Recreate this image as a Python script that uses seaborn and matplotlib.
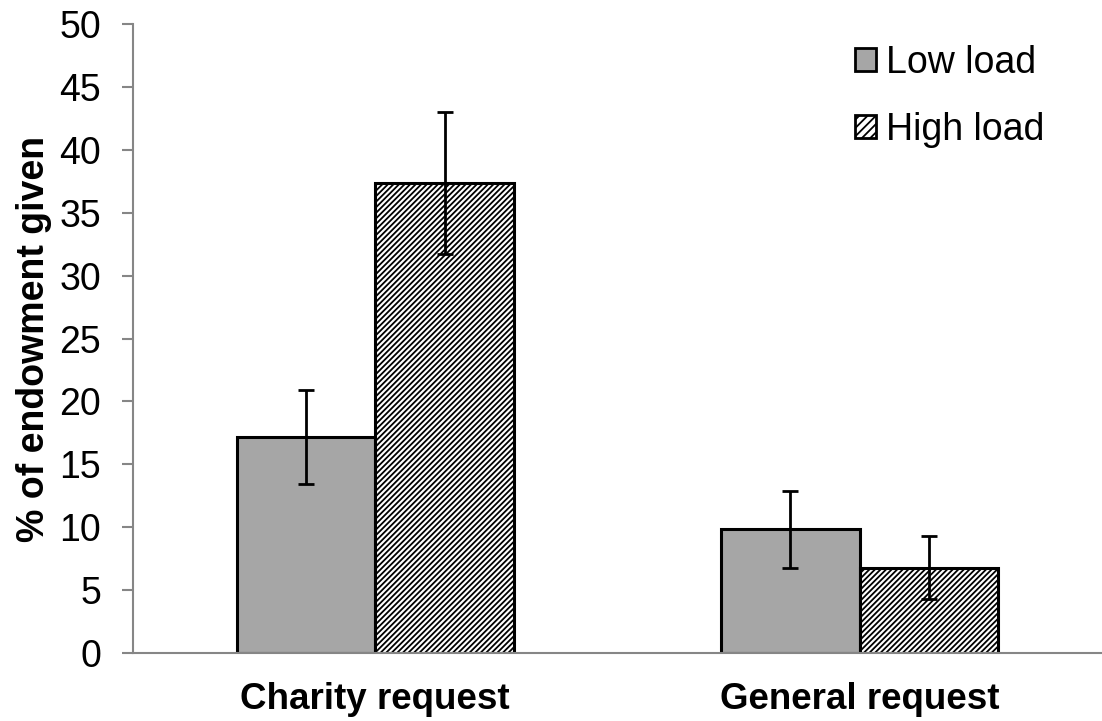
import pandas as pd
import numpy as np
import matplotlib
matplotlib.use('Agg')
import matplotlib.pyplot as plt
import seaborn as sns

# Values
requests = ['Charity request', 'General request']
loads = ['Low load', 'High load']
low_means = [17.15, 9.83]
high_means = [37.35, 6.78]
low_errs = [3.75, 3.08]
high_errs = [5.65, 2.5]

df = pd.DataFrame({
    'Request': requests * 2,
    'Load': [loads[0]] * 2 + [loads[1]] * 2,
    'Given': low_means + high_means,
    'Err': low_errs + high_errs,
})

sns.set_style('white')
plt.rcParams['font.family'] = ['Liberation Sans', 'DejaVu Sans']
plt.rcParams['hatch.linewidth'] = 1.3
plt.rcParams['text.color'] = 'black'
plt.rcParams['axes.labelcolor'] = 'black'

fig = plt.figure(figsize=(11.02, 7.21), dpi=100)
ax = fig.add_axes([0.1207, 0.0943, 0.8793, 0.8724])

sns.barplot(data=df, x='Request', y='Given', hue='Load', order=requests,
            hue_order=loads, palette=['#A6A6A6', 'white'], width=0.572,
            gap=0, errorbar=None, edgecolor='black', linewidth=2.2,
            saturation=1, ax=ax)

# hatch the high-load bars and add error bars at the bar centres
for container, load in zip(ax.containers, loads):
    sub = df[df['Load'] == load].set_index('Request').loc[requests]
    xs = []
    for bar in container:
        xs.append(bar.get_x() + bar.get_width() / 2)
        if load == 'High load':
            bar.set_hatch('//////')
    ax.errorbar(xs, sub['Given'], yerr=sub['Err'], fmt='none', ecolor='black',
                elinewidth=2, capsize=6, capthick=2, zorder=5)

ax.set_ylim(0, 50)
ax.set_yticks(np.arange(0, 51, 5))
ax.set_xlim(-0.5, 1.486)
ax.set_xticks([0, 1])
ax.set_xticklabels(requests, fontsize=26.5, fontweight='bold')
ax.set_xticks([-0.5, 0.5, 1.5], minor=True)
ax.tick_params(axis='x', which='major', length=0, pad=21, labelcolor='black')
ax.tick_params(axis='x', which='minor', length=8, width=1.5, color='#868686', direction='out')
ax.tick_params(axis='y', length=8, width=1.5, color='#868686', direction='out',
               labelsize=27, pad=15, left=True, labelcolor='black')
ax.set_xlabel('')
ax.set_ylabel('% of endowment given', fontsize=27, fontweight='bold', labelpad=5)

for side in ['top', 'right']:
    ax.spines[side].set_visible(False)
for side in ['left', 'bottom']:
    ax.spines[side].set_color('#868686')
    ax.spines[side].set_linewidth(1.5)

leg = ax.legend(loc='upper left', bbox_to_anchor=(0.745, 0.967), frameon=False,
                fontsize=27, handlelength=0.55, handleheight=0.55,
                handletextpad=0.27, labelspacing=0.82, borderpad=0,
                borderaxespad=0)
for h in leg.legend_handles:
    h.set_linewidth(2)
leg.legend_handles[1].set_hatch('////')

fig.savefig('out.png', dpi=100)
